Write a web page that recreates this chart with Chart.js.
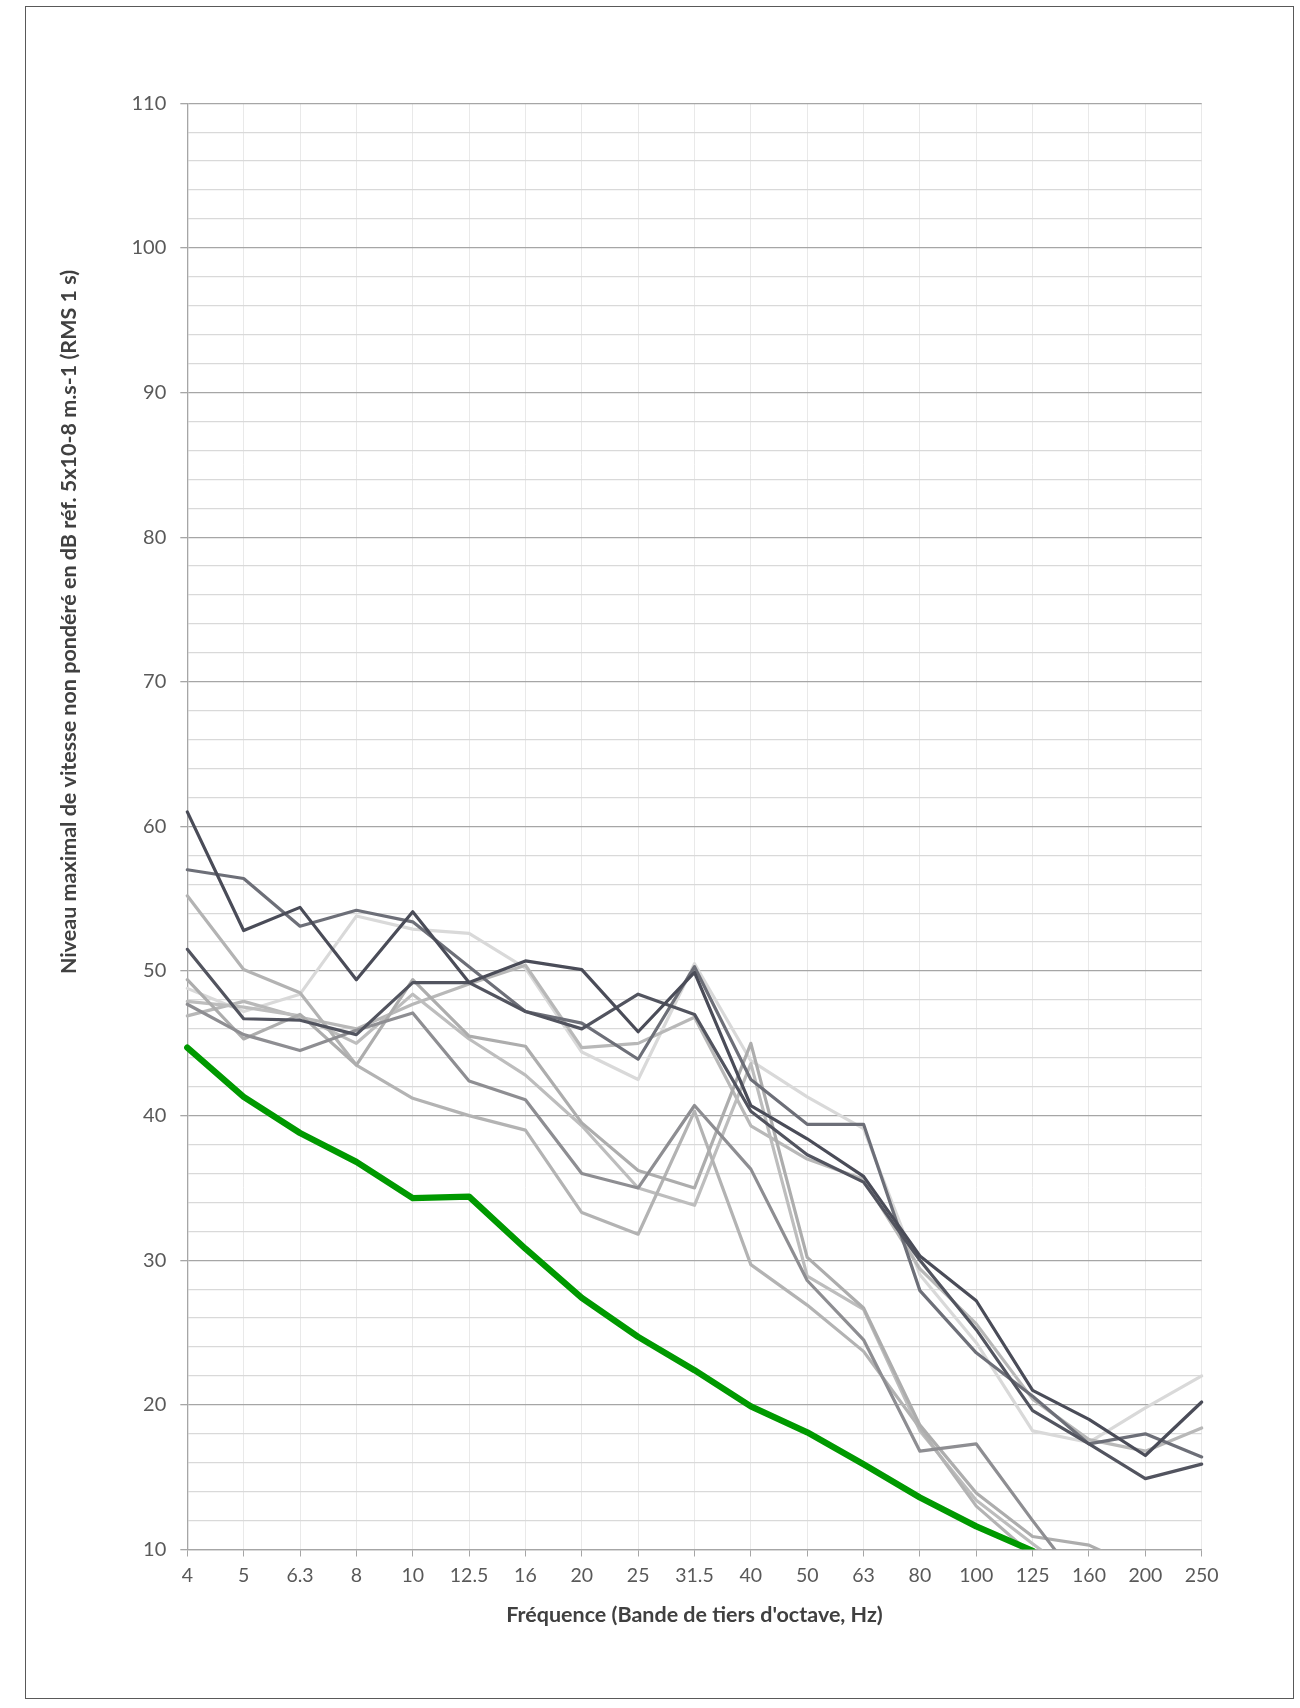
<!DOCTYPE html>
<html lang="fr">
<head>
<meta charset="utf-8">
<title>Niveau maximal de vitesse</title>
<script src="https://cdn.jsdelivr.net/npm/chart.js@4.4.1/dist/chart.umd.min.js"></script>
<style>
  html, body { margin: 0; padding: 0; background: #ffffff; }
  #wrap { width: 1300px; height: 1708px; position: relative; }
</style>
</head>
<body>
<div id="wrap"><canvas id="chart" width="1300" height="1708"></canvas></div>
<script>
// Bandes de tiers d'octave (Hz)
const frequencies = ['4','5','6.3','8','10','12.5','16','20','25','31.5','40','50','63','80','100','125','160','200','250'];

// Limite (courbe verte)
const limite = [44.7, 41.3, 38.8, 36.8, 34.3, 34.4, 30.8, 27.4, 24.7, 22.4, 19.9, 18.1, 15.9, 13.6, 11.6, 9.9, null, null, null];

// Mesures (niveaux maximaux, dB)
const mesure1 = [61.0, 52.8, 54.4, 49.4, 54.1, 49.2, 50.7, 50.1, 45.8, 49.9, 40.7, 38.4, 35.8, 30.3, 27.2, 21.0, 19.0, 16.5, 20.2];
const mesure2 = [51.5, 46.7, 46.6, 45.6, 49.2, 49.2, 47.2, 46.0, 48.4, 47.0, 40.3, 37.3, 35.4, 30.0, 25.2, 19.6, 17.3, 14.9, 15.9];
const mesure3 = [57.0, 56.4, 53.1, 54.2, 53.4, 50.3, 47.2, 46.4, 43.9, 50.3, 42.5, 39.4, 39.4, 27.9, 23.6, 20.6, 17.3, 18.0, 16.4];
const mesure4 = [47.7, 45.6, 44.5, 45.9, 47.1, 42.4, 41.1, 36.0, 35.0, 40.7, 36.3, 28.6, 24.5, 16.8, 17.3, 12.0, 6.9, null, null];
const mesure5 = [49.4, 45.3, 47.0, 43.5, 49.4, 45.5, 44.8, 39.5, 36.2, 35.0, 45.0, 30.2, 26.7, 18.6, 13.9, 10.9, 10.3, 8.5, null];
const mesure6 = [55.2, 50.1, 48.5, 43.5, 41.2, 40.0, 39.0, 33.3, 31.8, 40.3, 29.7, 26.9, 23.7, 18.4, 13.0, 9.6, null, null, null];
const mesure7 = [47.9, 47.5, 46.9, 45.0, 48.4, 45.3, 42.8, 39.3, 35.0, 33.8, 43.6, 28.9, 26.6, 18.2, 13.4, 10.4, 7.5, null, null];
const mesure8 = [46.9, 47.9, 46.8, 46.0, 47.7, 49.1, 50.4, 44.7, 45.0, 46.8, 39.3, 37.0, 35.6, 29.4, 25.6, 20.4, 17.6, 16.8, 18.4];
const mesure9 = [48.8, 47.2, 48.4, 53.8, 52.9, 52.6, 50.2, 44.4, 42.5, 50.5, 43.8, 41.3, 39.1, 29.0, 24.3, 18.2, 17.4, 19.8, 22.0];

const yTicksMin = 10;
const yTicksMax = 110;
const yMinorStep = 2;

const xTitle = "Fréquence (Bande de tiers d'octave, Hz)";
const yTitle = "Niveau maximal de vitesse non pondéré en dB réf. 5x10-8 m.s-1 (RMS 1 s)";

const FONT = "Lato, 'Open Sans', 'DejaVu Sans', sans-serif";

function grayLine(label, data, color) {
  return {
    label, data,
    borderColor: color,
    backgroundColor: color,
    borderWidth: 3.2,
    pointRadius: 0,
    tension: 0,
    spanGaps: false,
    borderJoinStyle: 'round',
    borderCapStyle: 'round',
    clip: { left: 4, top: 4, right: 4, bottom: 0 }
  };
}

// Cadre extérieur et titre vertical
const framePlugin = {
  id: 'frame',
  beforeDraw(chart) {
    const ctx = chart.ctx;
    ctx.save();
    ctx.fillStyle = '#ffffff';
    ctx.fillRect(0, 0, chart.width, chart.height);
    ctx.strokeStyle = '#595959';
    ctx.lineWidth = 1;
    ctx.strokeRect(25.5, 6.5, 1268, 1692);
    ctx.restore();
  },
  afterDraw(chart) {
    const ctx = chart.ctx;
    ctx.save();
    ctx.translate(69, 622);
    ctx.rotate(-Math.PI / 2);
    ctx.font = "bold 21.5px " + FONT;
    ctx.fillStyle = '#404040';
    ctx.textAlign = 'center';
    ctx.textBaseline = 'middle';
    ctx.fillText(yTitle, 0, 0);
    ctx.restore();
  }
};

new Chart(document.getElementById('chart'), {
  type: 'line',
  data: {
    labels: frequencies,
    datasets: [
      Object.assign(grayLine('Limite', limite, '#009900'), { borderWidth: 6.3 }),
      grayLine('Mesure 1', mesure1, '#4a4c58'),
      grayLine('Mesure 2', mesure2, '#52545f'),
      grayLine('Mesure 3', mesure3, '#6d6f78'),
      grayLine('Mesure 4', mesure4, '#8e8e92'),
      grayLine('Mesure 5', mesure5, '#adadad'),
      grayLine('Mesure 6', mesure6, '#b3b3b3'),
      grayLine('Mesure 7', mesure7, '#bdbdbd'),
      grayLine('Mesure 8', mesure8, '#b8b8b8'),
      grayLine('Mesure 9', mesure9, '#d9d9d9')
    ]
  },
  options: {
    responsive: false,
    animation: false,
    devicePixelRatio: 1,
    layout: { padding: { left: 0, top: 103.3, right: 98.3, bottom: 0 } },
    plugins: {
      legend: { display: false },
      tooltip: { enabled: false },
      title: { display: false }
    },
    scales: {
      x: {
        type: 'category',
        offset: false,
        grid: {
          color: '#e9e9e9',
          lineWidth: 1,
          tickColor: '#a6a6a6',
          tickLength: 7,
          drawTicks: true
        },
        border: { display: true, color: '#a6a6a6', width: 1.3 },
        ticks: {
          color: '#595959',
          font: { family: FONT, size: 19.5 },
          padding: 8,
          maxRotation: 0,
          autoSkip: false
        },
        title: {
          display: true,
          text: xTitle,
          color: '#404040',
          font: { family: FONT, size: 21.5, weight: 'bold' },
          padding: { top: 0, bottom: 80 }
        },
        afterFit(scale) { scale.height = 158.5; }
      },
      y: {
        type: 'linear',
        min: yTicksMin,
        max: yTicksMax,
        grid: {
          color: (c) => (c.tick && c.tick.value % 10 === 0) ? '#a6a6a6' : '#d9d9d9',
          lineWidth: 1.3,
          tickColor: (c) => (c.tick && c.tick.value % 10 === 0) ? '#a6a6a6' : 'rgba(0,0,0,0)',
          tickLength: 7
        },
        border: { display: true, color: '#a6a6a6', width: 1.3 },
        ticks: {
          stepSize: yMinorStep,
          autoSkip: false,
          color: '#595959',
          font: { family: FONT, size: 20 },
          padding: 14,
          callback: (v) => (v % 10 === 0 ? String(v) : '')
        },
        afterFit(scale) { scale.width = 187.3; }
      }
    }
  },
  plugins: [framePlugin]
});
</script>
</body>
</html>
